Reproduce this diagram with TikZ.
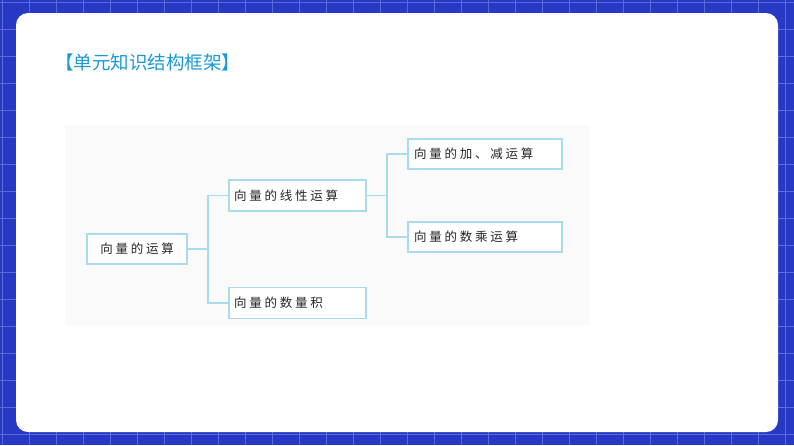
\documentclass[tikz,border=0pt]{standalone}
\usepackage{fontspec}
\newfontfamily\cjk[LetterSpace=22]{Noto Sans CJK SC}
\newfontfamily\cjkt{Noto Sans CJK SC}
\definecolor{bg}{HTML}{2638C4}
\definecolor{gridc}{HTML}{5A6AD6}
\definecolor{lc}{HTML}{A8DCEC}
\definecolor{tc}{HTML}{1C9AD8}
\begin{document}
\begin{tikzpicture}[x=1pt,y=-1pt,
 box/.style={draw=lc,line width=1.2pt,fill=white,minimum height=30pt,inner sep=0pt,font=\cjk\fontsize{12.5}{12.5}\selectfont,text=black!85,align=left},
 ln/.style={draw=lc,line width=1.2pt}]
\useasboundingbox (0,0) rectangle (794,445);
\fill[bg] (0,0) rectangle (794,445);
\foreach \i in {0,...,30}{\draw[gridc,line width=0.8pt] (\i*27+2,0)--(\i*27+2,445);}
\foreach \j in {0,...,17}{\draw[gridc,line width=0.8pt] (0,\j*27+2)--(794,\j*27+2);}
\fill[white,rounded corners=12pt] (16,13) rectangle (778,432);
\fill[black!2] (65,125) rectangle (590,325);
\node[anchor=west,inner sep=0pt,text=tc,font=\cjkt\fontsize{18.5}{18.5}\selectfont] (title) at (55,62) {【单元知识结构框架】};
\node[box,minimum width=100pt] (a) at (137,249) {向量的运算};
\node[box,minimum width=137pt,minimum height=31pt,text width=127pt] (b) at (297.5,195.5) {向量的线性运算};
\node[box,minimum width=137pt,minimum height=31pt,text width=127pt] (c) at (297.5,303) {向量的数量积};
\node[box,minimum width=154pt,text width=142pt] (d) at (485,154) {向量的加、减运算};
\node[box,minimum width=154pt,text width=142pt] (e) at (485,237) {向量的数乘运算};
\coordinate (j1) at (208,249);
\coordinate (j2) at (387,195.5);
\draw[ln] (a.east)--(j1);
\draw[ln] (b.west)-|(j1)|-(c.west);
\draw[ln] (b.east)--(j2);
\draw[ln] (d.west)-|(j2)|-(e.west);
\end{tikzpicture}
\end{document}
